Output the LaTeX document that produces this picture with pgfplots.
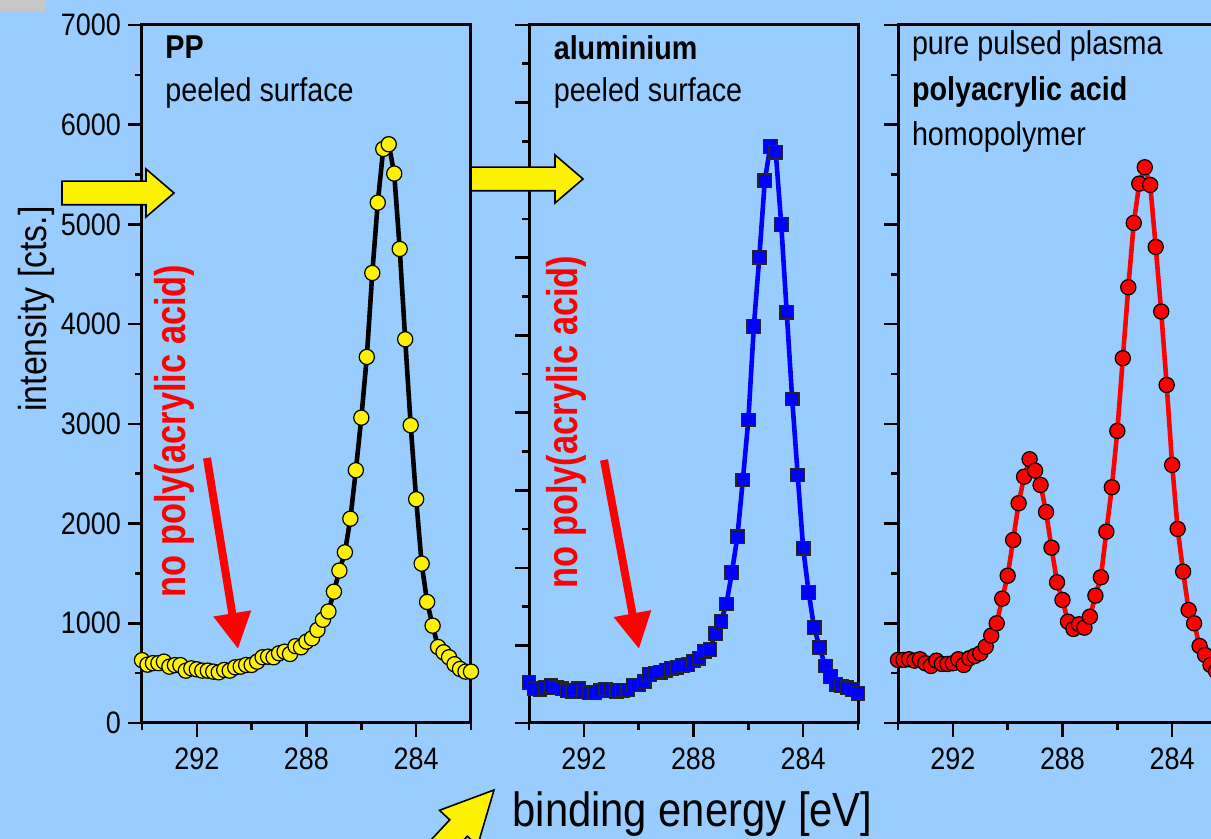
\documentclass[border=0pt]{standalone}
\usepackage{pgfplots}
\usepackage{pgfplotstable}
\usepackage{fontspec}
\pgfplotsset{compat=1.18}
\usetikzlibrary{arrows.meta}
\setmainfont{Liberation Sans}[FakeStretch=0.87]
\newfontfamily\notefont{Liberation Sans}[FakeStretch=0.8]

\definecolor{bgblue}{RGB}{153,204,255}

% binding energy [eV], counts
\pgfplotstableread{
E I
294.0 630
293.8 585
293.6 600
293.4 600
293.2 615
293.0 565
292.8 580
292.6 580
292.4 525
292.2 548
292.0 538
291.8 525
291.6 525
291.4 515
291.2 508
291.0 532
290.8 525
290.6 558
290.4 565
290.2 582
290.0 582
289.8 615
289.6 659
289.4 665
289.2 659
289.0 699
288.8 715
288.6 692
288.4 770
288.2 759
288.0 816
287.8 849
287.6 933
287.4 1035
287.2 1118
287.0 1317
286.8 1528
286.6 1712
286.4 2049
286.2 2535
286.0 3062
285.8 3671
285.6 4513
285.4 5219
285.2 5757
285.0 5804
284.8 5510
284.6 4754
284.4 3848
284.2 2986
284.0 2244
283.8 1598
283.6 1214
283.4 976
283.2 762
283.0 709
282.8 659
282.6 589
282.4 542
282.2 515
282.0 515
}\pptable

\pgfplotstableread{
E I
294.0 520
293.8 440
293.6 430
293.4 460
293.2 485
293.0 455
292.8 440
292.6 414
292.4 410
292.2 440
292.0 400
291.8 388
291.6 390
291.4 415
291.2 438
291.0 420
290.8 410
290.6 423
290.4 425
290.2 490
290.0 490
289.8 530
289.6 625
289.4 645
289.2 656
289.0 680
288.8 705
288.6 712
288.4 740
288.2 750
288.0 800
287.8 835
287.6 920
287.4 950
287.2 1150
287.0 1310
286.8 1534
286.6 1940
286.4 2402
286.2 3133
286.0 3907
285.8 5110
285.6 6005
285.4 6992
285.2 7431
285.0 7359
284.8 6430
284.6 5296
284.4 4178
284.2 3198
284.0 2253
283.8 1685
283.6 1229
283.4 976
283.2 735
283.0 597
282.8 499
282.6 477
282.4 455
282.2 434
282.0 383
}\altable

\pgfplotstableread{
E I
294.0 632
293.8 632
293.6 639
293.4 625
293.2 639
293.0 599
292.8 572
292.6 625
292.4 592
292.2 592
292.0 599
291.8 639
291.6 582
291.4 649
291.2 672
291.0 699
290.8 765
290.6 876
290.4 1000
290.2 1247
290.0 1477
289.8 1835
289.6 2204
289.4 2470
289.2 2645
289.0 2531
288.8 2387
288.6 2116
288.4 1758
288.2 1411
288.0 1234
287.8 1016
287.6 943
287.4 990
287.2 956
287.0 1066
286.8 1277
286.6 1461
286.4 1919
286.2 2364
286.0 2929
285.8 3658
285.6 4370
285.4 5015
285.2 5409
285.0 5573
284.8 5396
284.6 4774
284.4 4126
284.2 3390
284.0 2588
283.8 1946
283.6 1518
283.4 1133
283.2 1000
283.0 772
282.8 682
282.6 582
282.4 520
282.2 480
282.0 450
}\paatable

\pgfplotsset{
  panel/.style={
    scale only axis, width=164.5pt, height=349pt, anchor=south west,
    x dir=reverse, xmin=282, xmax=294,
    xtick={284,288,292}, minor xtick={282,286,290,294},
    ymin=0,
    axis line style={line width=1.5pt},
    tick style={line width=1.3pt, black},
    tick align=outside, xtick pos=left, ytick pos=left,
    major tick length=7pt, minor tick length=3.5pt,
    ticklabel style={font=\fontsize{15.5}{17}\selectfont},
    xticklabel style={yshift=-2pt},
    /pgf/number format/assume math mode=true,
    /pgf/number format/set thousands separator={},
  },
}
\tikzset{
  yarrow/.pic={
    \filldraw[fill=yellow, draw=black, line width=0.8pt]
      (0,0) -- (-14pt,12pt) -- (-14pt,5.9pt) -- (-56pt,5.9pt)
      -- (-56pt,-5.9pt) -- (-14pt,-5.9pt) -- (-14pt,-12pt) -- cycle;
  },
  redarrow/.style={draw=red, line width=4pt, -{Triangle[width=18pt,length=18pt]}},
  redtext/.style={text=red, rotate=90, font=\notefont\bfseries\fontsize{21.5}{24}\selectfont},
  note/.style={anchor=base west, inner sep=0pt, font=\fontsize{16.5}{19}\selectfont},
}

\begin{document}
\begin{tikzpicture}
\fill[bgblue] (0,0) rectangle (605.5pt,419.5pt);
\path[use as bounding box] (0,0) rectangle (605.5pt,419.5pt);
\fill[black!22] (0,414pt) rectangle (22.5pt,419.5pt);

% PP
\begin{axis}[panel, at={(71pt,58pt)}, ymax=7000,
  ytick={0,1000,...,7000}, minor ytick={500,1500,...,6500}]
\addplot[black, line width=2.3pt, mark=*, mark size=3.8pt,
  mark options={fill=yellow, draw=black, line width=0.6pt}] table[x=E, y=I] {\pptable};
\end{axis}

% aluminium
\begin{axis}[panel, at={(264.5pt,58pt)}, ymax=9000,
  ytick={0,1000,...,9000}, minor ytick={500,1500,...,8500}, yticklabels={}]
\addplot[blue, line width=2.3pt, mark=square*, mark size=3.4pt,
  mark options={fill=blue, draw=black!85, line width=0.6pt}] table[x=E, y=I] {\altable};
\end{axis}

% homopolymer
\begin{axis}[panel, at={(449pt,58pt)}, ymax=7000,
  ytick={0,1000,...,7000}, minor ytick={500,1500,...,6500}, yticklabels={}]
\addplot[red, line width=2.3pt, mark=*, mark size=3.8pt,
  mark options={fill=red, draw=black, line width=0.6pt}] table[x=E, y=I] {\paatable};
\end{axis}

% labels
\node[rotate=90, font=\fontsize{19.5}{22}\selectfont] at (18pt,265pt) {intensity [cts.]};
\node[anchor=base, font=\fontsize{24}{28}\selectfont] at (346.25pt,6pt) {binding energy [eV]};

\node[note] at (82.5pt,390pt) {\bfseries PP};
\node[note] at (82.5pt,368.7pt) {peeled surface};
\node[note] at (276.7pt,389.8pt) {\bfseries aluminium};
\node[note] at (276.7pt,368.7pt) {peeled surface};
\node[note] at (455.8pt,392pt) {pure pulsed plasma};
\node[note] at (455.8pt,369pt) {\bfseries polyacrylic acid};
\node[note] at (455.8pt,346.7pt) {homopolymer};

\node[redtext] at (87pt,204pt) {no poly(acrylic acid)};
\node[redtext] at (283pt,208.5pt) {no poly(acrylic acid)};
\draw[redarrow] (103.5pt,190.5pt) -- (119pt,95pt);
\draw[redarrow] (302pt,189.5pt) -- (319.5pt,95pt);

\pic at (87pt,323pt) {yarrow};
\pic at (291.5pt,330pt) {yarrow};
\begin{scope}[shift={(247pt,24.5pt)}, rotate=47]
\filldraw[fill=yellow, draw=black, line width=0.8pt]
  (0,0) -- (-26pt,13pt) -- (-26pt,6pt) -- (-80pt,6pt)
  -- (-80pt,-6pt) -- (-26pt,-6pt) -- (-26pt,-13pt) -- cycle;
\end{scope}
\end{tikzpicture}
\end{document}
